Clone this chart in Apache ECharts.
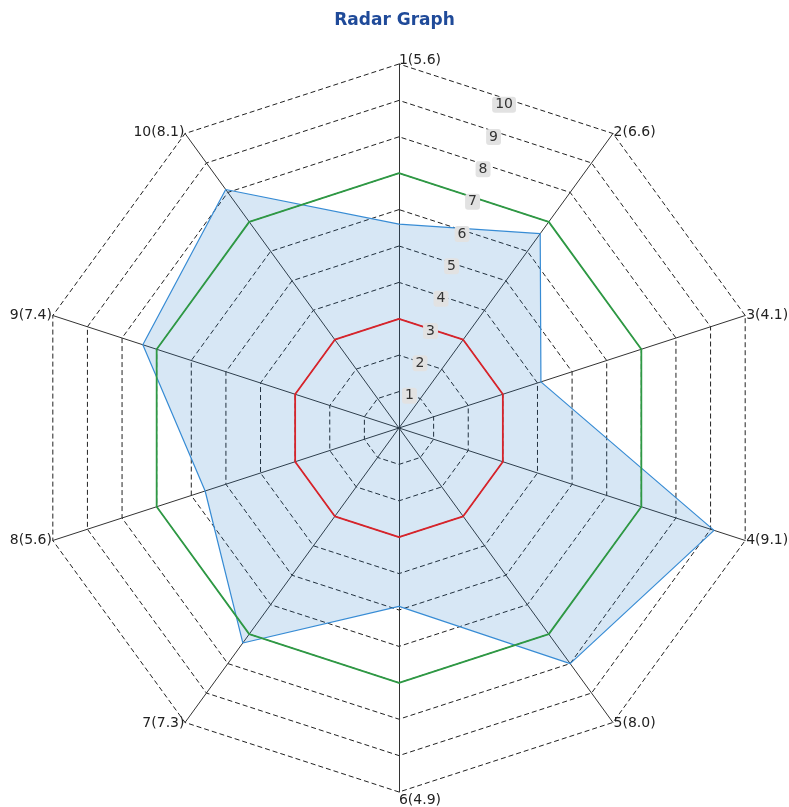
<!DOCTYPE html>
<html>
<head>
<meta charset="utf-8">
<script src="https://cdn.jsdelivr.net/npm/echarts@6/dist/echarts.min.js"></script>
<style>
  html, body { margin: 0; padding: 0; background: #ffffff; }
  #chart { width: 789px; height: 807px; }
</style>
</head>
<body>
<div id="chart"></div>
<script>
// ---- data ----
const categories = ['1', '2', '3', '4', '5', '6', '7', '8', '9', '10'];
const values = [5.6, 6.6, 4.1, 9.1, 8.0, 4.9, 7.3, 5.6, 7.4, 8.1];
const innerRing = [3, 3, 3, 3, 3, 3, 3, 3, 3, 3];
const outerRing = [7, 7, 7, 7, 7, 7, 7, 7, 7, 7];
const tickLabels = [1, 2, 3, 4, 5, 6, 7, 8, 9, 10];
const axisMax = 10;

// ECharts radar runs counter-clockwise; reorder so axes go clockwise from the top
const order = [0, 9, 8, 7, 6, 5, 4, 3, 2, 1];
const names = categories.map((c, i) => c + '(' + values[i].toFixed(1) + ')');
const indicator = order.map(i => ({ name: names[i], min: 0, max: axisMax }));
const pick = arr => order.map(i => arr[i]);

const chart = echarts.init(document.getElementById('chart'), null, { renderer: 'canvas' });
const FONT = 'DejaVu Sans';

const option = {
  backgroundColor: '#ffffff',
  animation: false,
  title: {
    text: 'Radar Graph',
    left: 'center',
    top: 7,
    textStyle: { fontFamily: FONT, fontSize: 17, fontWeight: 'bold', color: '#1f4a99' }
  },
  radar: {
    center: [399, 428],
    radius: 364,
    startAngle: 90,
    splitNumber: 10,
    shape: 'polygon',
    indicator: indicator,
    nameGap: 1,
    axisName: {
      color: '#222',
      fontFamily: FONT,
      fontSize: 14,
      formatter: function (name) {
        if (name === names[0]) return '{t|' + name + '}';
        if (name === names[5]) return '{r|' + name + '}';
        return name;
      },
      rich: {
        r: { fontFamily: FONT, fontSize: 14, color: '#222', padding: [0, 0, 0, 42] },
        t: { fontFamily: FONT, fontSize: 14, color: '#222', padding: [0, 0, 0, 42], lineHeight: 6 }
      }
    },
    axisLine: { lineStyle: { color: '#333', width: 1 } },
    splitLine: { lineStyle: { color: '#222', width: 1, type: [5, 3] } },
    splitArea: { show: false },
    axisTick: { show: false }
  },
  polar: { center: [399, 428], radius: 340 },
  angleAxis: { type: 'value', min: 0, max: 360, startAngle: 72, show: false },
  radiusAxis: {
    type: 'value',
    min: 0,
    max: axisMax,
    interval: 1,
    z: 10,
    axisLine: { show: false },
    axisTick: { show: false },
    splitLine: { show: false },
    axisLabel: {
      showMinLabel: false,
      margin: 0,
      align: 'center',
      verticalAlign: 'middle',
      rotate: 0,
      fontFamily: FONT,
      fontSize: 14,
      color: '#333',
      backgroundColor: '#e2e2e2',
      borderRadius: 3,
      padding: [1, 3, 1, 3],
      formatter: v => (tickLabels.indexOf(v) >= 0 ? String(v) : '')
    }
  },
  series: [
    {
      type: 'radar',
      symbol: 'none',
      z: 2,
      lineStyle: { color: '#3a8ed6', width: 1.2 },
      areaStyle: { color: 'rgba(30,120,200,0.25)' },
      data: [{ value: pick(values), name: 'data' }]
    },
    {
      type: 'radar',
      symbol: 'none',
      z: 3,
      lineStyle: { color: '#d8232a', width: 1.8 },
      data: [{ value: pick(innerRing), name: 'inner' }]
    },
    {
      type: 'radar',
      symbol: 'none',
      z: 3,
      lineStyle: { color: '#2e9944', width: 1.8 },
      data: [{ value: pick(outerRing), name: 'outer' }]
    }
  ]
};
chart.setOption(option);
</script>
</body>
</html>
